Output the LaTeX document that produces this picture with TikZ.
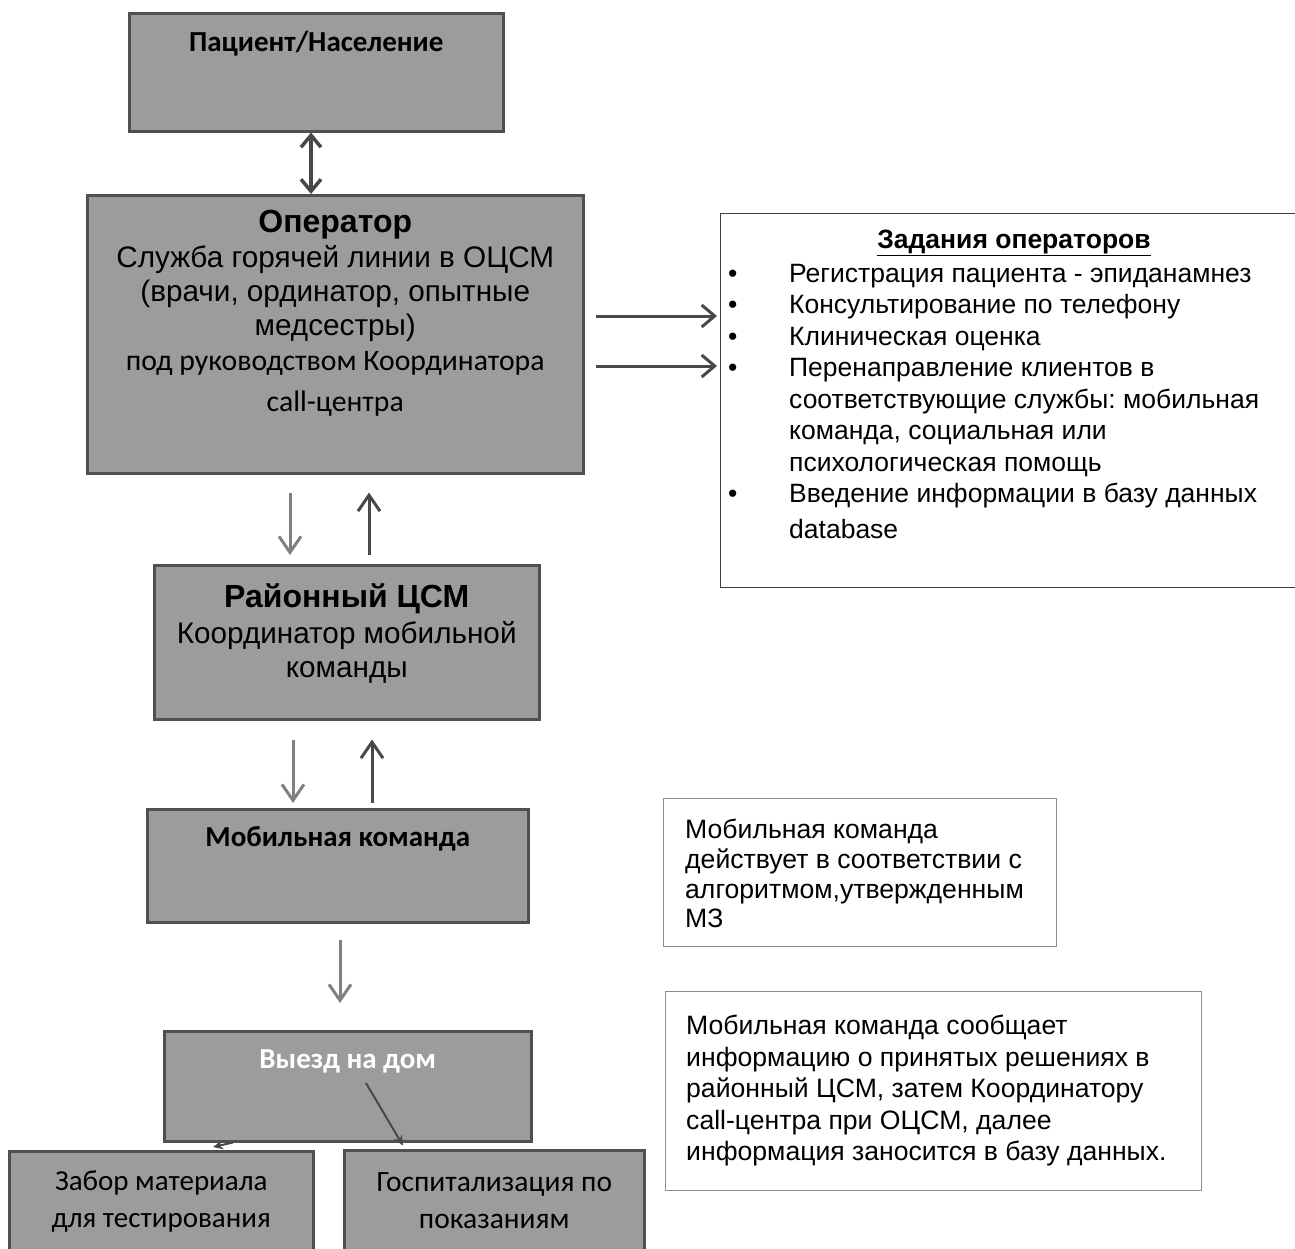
\documentclass[tikz,border=0pt]{standalone}
\usepackage{fontspec}
\setmainfont{Liberation Sans}
\newfontfamily\calfont{Carlito}
\usepackage{tikz}
\usetikzlibrary{arrows.meta,positioning}
\frenchspacing
\definecolor{boxgray}{RGB}{156,156,156}
\definecolor{boxedge}{RGB}{80,80,80}
\definecolor{lightarrow}{RGB}{128,128,128}
\definecolor{darkarrow}{RGB}{72,72,72}
\definecolor{noteedge}{RGB}{140,140,140}
\tikzset{
  box/.style={draw=boxedge, fill=boxgray, line width=2.5pt, anchor=north west, inner sep=0pt},
  note/.style={draw=noteedge, line width=1pt, anchor=north west, inner sep=0pt},
  taskbox/.style={draw=black!75, line width=1.2pt, anchor=north west, inner sep=0pt},
  txt/.style={anchor=north, align=center, inner sep=0pt, font=\fontsize{29.7}{34}\selectfont},
  plain/.style={anchor=north west, align=left, inner sep=0pt, font=\fontsize{26.6}{29.7}\selectfont},
  godown/.style={-{Straight Barb[length=16pt,width=22pt]}, draw=lightarrow, line width=3pt},
  goup/.style={-{Straight Barb[length=16pt,width=22pt]}, draw=darkarrow, line width=3pt},
  tolist/.style={-{Straight Barb[length=13pt,width=22pt]}, draw=darkarrow, line width=3pt},
  twoway/.style={{Straight Barb[length=12pt,width=20pt]}-{Straight Barb[length=12pt,width=20pt]}, draw=darkarrow, line width=3.5pt},
  thin/.style={-{Stealth[length=10pt,width=9pt]}, draw=darkarrow, line width=2pt}
}

\begin{document}
\begin{tikzpicture}[x=1pt,y=-1pt]
  \useasboundingbox (0,0) rectangle (1295,1248);
  % left column
  \node[box, minimum width=374pt, minimum height=118pt] (pat) at (128,12) {};
  \node[box, minimum width=496pt, minimum height=278pt] (op) at (86,194) {};
  \node[box, minimum width=385pt, minimum height=154pt] (ray) at (153,564) {};
  \node[box, minimum width=381pt, minimum height=113pt] (mob) at (146,808) {};
  \node[box, minimum width=367pt, minimum height=110pt] (vyezd) at (163,1030) {};
  \node[box, minimum width=304pt, minimum height=115pt] (zabor) at (8,1150) {};
  \node[box, minimum width=300pt, minimum height=115pt] (gosp) at (343,1149) {};
  % right column
  \node[taskbox, minimum width=590pt, minimum height=374pt] (tasks) at (720,213) {};
  \node[note, minimum width=393pt, minimum height=148pt] (rule) at (663,798) {};
  \node[note, minimum width=536pt, minimum height=199pt] (report) at (665,991) {};

  \node[txt, font=\calfont\bfseries\fontsize{29}{34}\selectfont] (pattext) at (pat.north |- 0,31) {Пациент/Население};
  \node[txt] (optext) at (op.north |- 0,210) {{\bfseries\fontsize{32}{36}\selectfont Оператор}\\[1pt]
    Служба горячей линии в ОЦСМ\\ (врачи, ординатор, опытные\\ медсестры)\\[1pt]
    {\calfont под руководством Координатора}\\[7pt] {\calfont call-центра}};
  \node[txt] (raytext) at (ray.north |- 0,583) {{\bfseries\fontsize{32}{36}\selectfont Районный ЦСМ}\\[2pt]
    Координатор мобильной\\ команды};
  \node[txt, font=\calfont\bfseries\fontsize{29}{34}\selectfont] (mobtext) at (mob.north |- 0,826) {Мобильная команда};
  \node[txt, font=\calfont\bfseries\fontsize{29}{34}\selectfont, text=white] (vyezdtext) at (vyezd.north |- 0,1049) {Выезд на дом};
  \node[txt, font=\calfont\fontsize{29}{37}\selectfont] (zabortext) at (zabor.north |- 0,1171) {Забор материала\\ для тестирования};
  \node[txt, font=\calfont\fontsize{29.5}{37}\selectfont] (gosptext) at (gosp.north |- 0,1172) {Госпитализация по\\ показаниям};

  \node[txt, font=\bfseries\fontsize{26.5}{31.5}\selectfont] (taskhead) at (1014,230) {\underline{Задания операторов}};
  \node[plain, font=\fontsize{26.5}{31.5}\selectfont] (tasklist) at (728,260) {%
    \begin{tabular}{@{}p{61pt}@{}l@{}}
      \textbullet & Регистрация пациента - эпиданамнез\\
      \textbullet & Консультирование по телефону\\
      \textbullet & Клиническая оценка\\
      \textbullet & Перенаправление клиентов в\\
                  & соответствующие службы: мобильная\\
                  & команда, социальная или\\
                  & психологическая помощь\\
      \textbullet & Введение информации в базу данных\\[4pt]
                  & database
    \end{tabular}};
  \node[plain] (ruletext) at (685,819) {Мобильная команда\\ действует в соответствии с\\ алгоритмом,утвержденным\\ МЗ};
  \node[plain, font=\fontsize{26.6}{31.5}\selectfont] (reporttext) at (686,1015) {Мобильная команда сообщает\\ информацию о принятых решениях в\\
    районный ЦСМ, затем Координатору\\ call-центра при ОЦСМ, далее\\ информация заносится в базу данных.};

  % connectors
  \draw[twoway] (311,0 |- pat.south) -- (311,0 |- op.north);
  \draw[tolist, shorten <=11pt, shorten >=3pt] (op.east |- 0,316) -- (tasks.west |- 0,316);
  \draw[tolist, shorten <=11pt, shorten >=3pt] (op.east |- 0,366) -- (tasks.west |- 0,366);
  \draw[godown, shorten <=18pt, shorten >=9pt] (290,0 |- op.south) -- (290,0 |- ray.north);
  \draw[goup, shorten <=9pt, shorten >=18pt] (369,0 |- ray.north) -- (369,0 |- op.south);
  \draw[godown, shorten <=19pt, shorten >=5pt] (293,0 |- ray.south) -- (293,0 |- mob.north);
  \draw[goup, shorten <=5pt, shorten >=19pt] (372,0 |- mob.north) -- (372,0 |- ray.south);
  \draw[godown, shorten <=16pt, shorten >=27pt] (340,0 |- mob.south) -- (340,0 |- vyezd.north);
  \coordinate (turn) at (366,1083);
  \draw[thin] (233,0 |- vyezd.south) -- (213,1147);
  \draw[thin, shorten >=4pt] (turn) -- (405,0 |- gosp.north);
\end{tikzpicture}
\end{document}
